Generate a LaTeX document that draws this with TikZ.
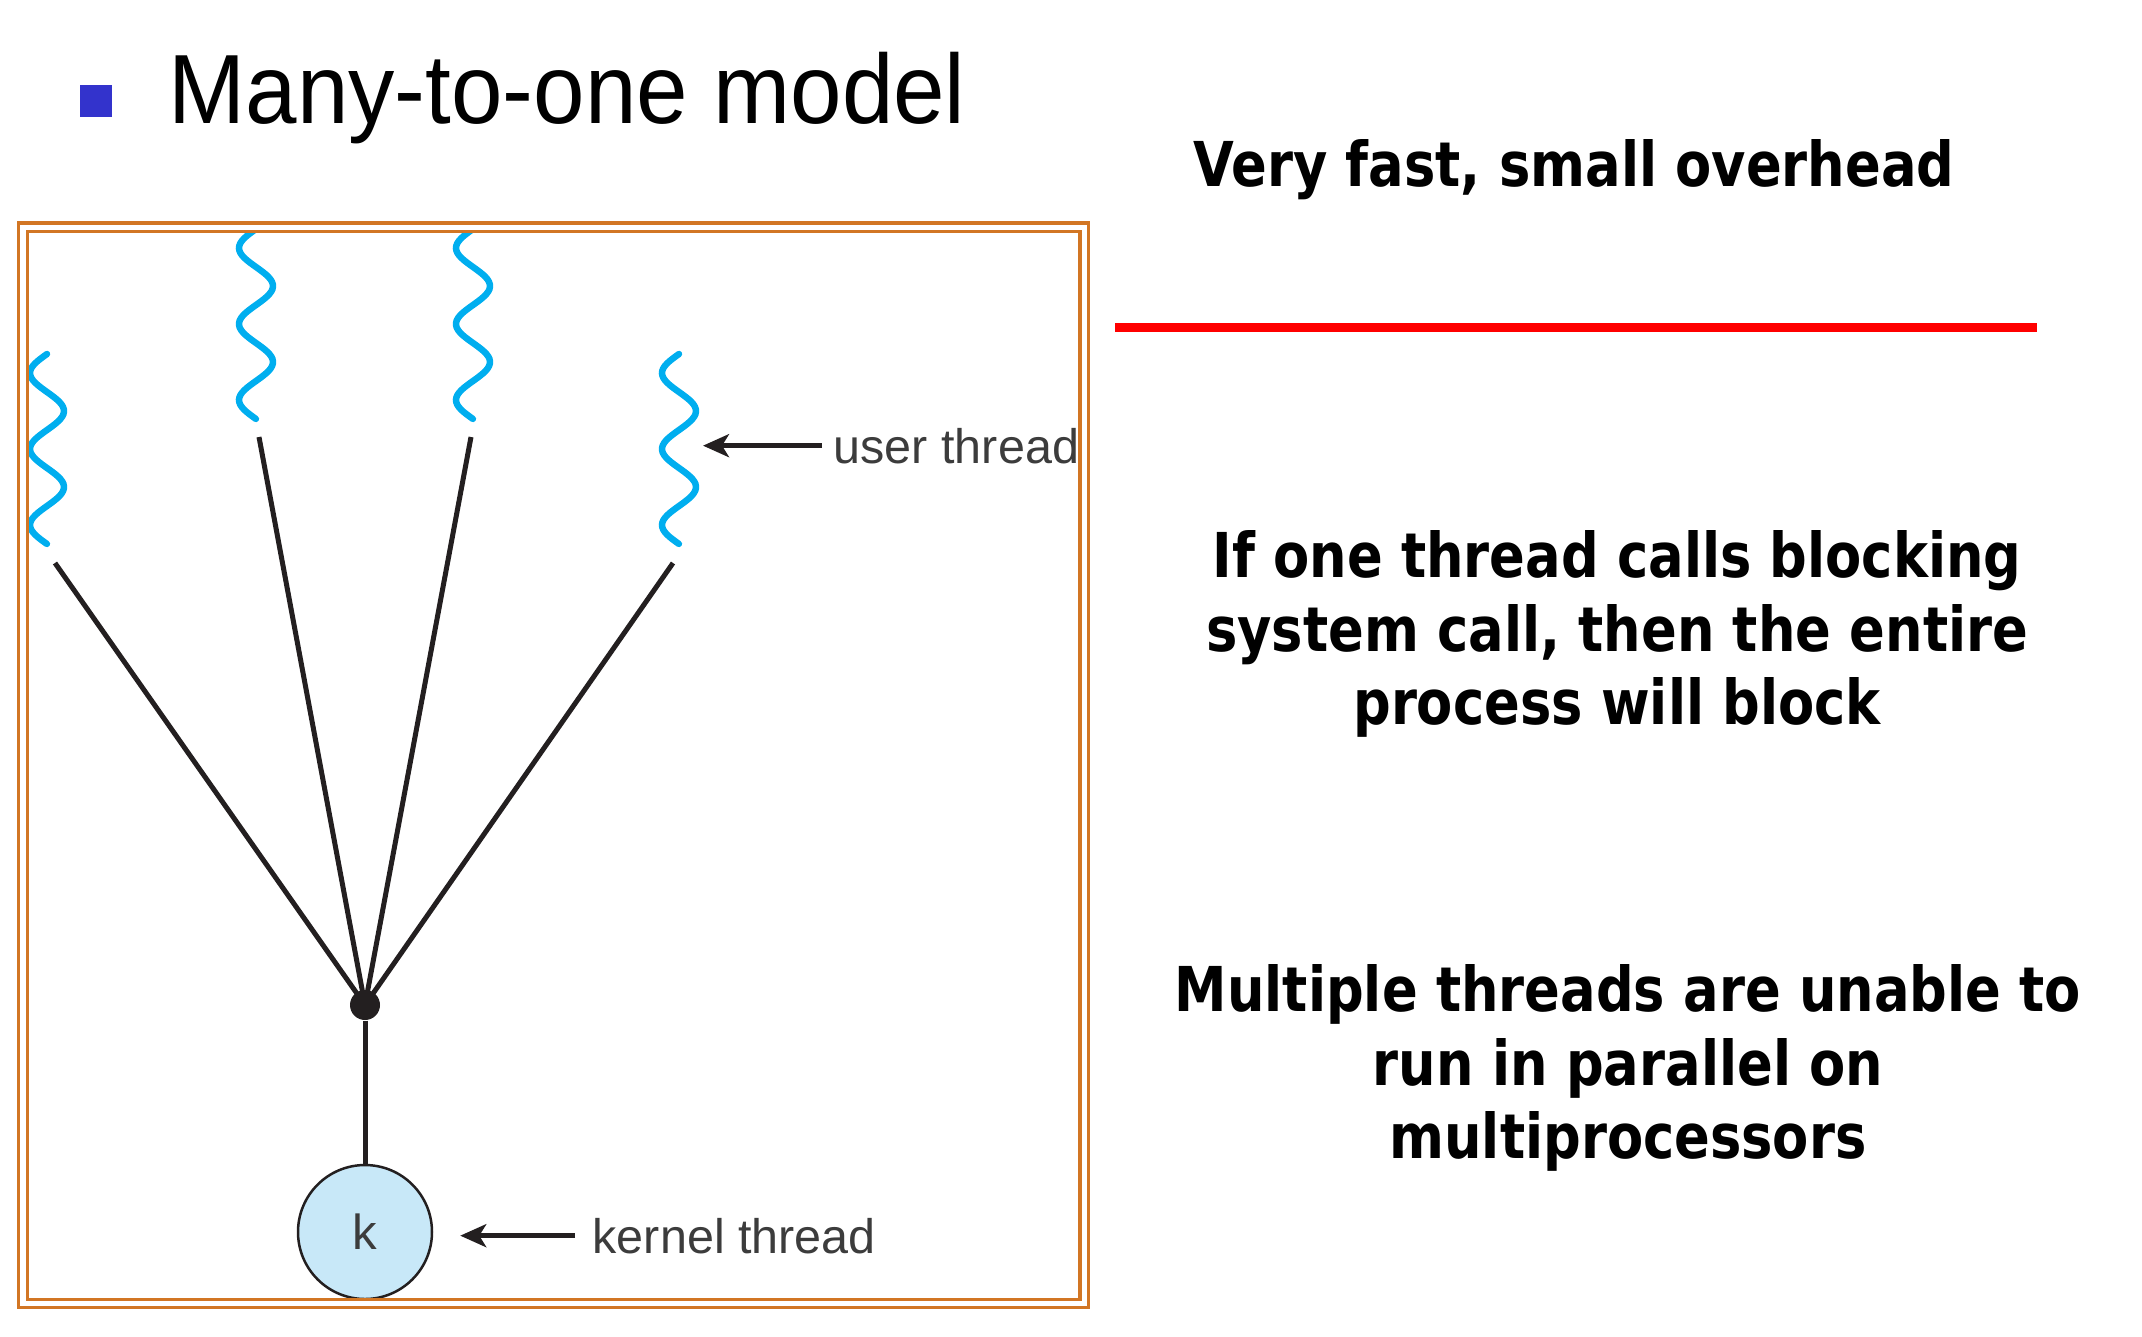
\documentclass[tikz,border=0pt]{standalone}
\usepackage{fontspec}
\setmainfont{Liberation Sans}
\newfontfamily\titlefont[FakeStretch=0.94]{Liberation Sans}
\newfontfamily\notefont[FakeStretch=0.852]{DejaVu Sans}
\usetikzlibrary{arrows.meta}
\definecolor{frameorange}{RGB}{210,118,36}
\definecolor{threadcyan}{RGB}{0,174,239}
\definecolor{kernelfill}{RGB}{200,232,248}
\definecolor{wiregray}{RGB}{35,31,32}
\definecolor{labelgray}{RGB}{60,60,60}
\definecolor{bulletblue}{RGB}{51,51,204}

\tikzset{
  wire/.style={wiregray, line width=0.05cm},
  pointer/.style={wiregray, line width=0.045cm, -{Stealth[length=0.26cm,width=0.23cm,inset=0.07cm]}},
  tlabel/.style={labelgray, inner sep=0, font=\fontsize{13.8}{16}\selectfont},
  note/.style={align=center, inner sep=0, font=\notefont\bfseries\fontsize{17.6}{20.9}\selectfont},
}

\begin{document}
\begin{tikzpicture}[x=1cm, y=-1cm]
\useasboundingbox (0,0) rectangle (21.42,13.36);

% Title
\fill[bulletblue] (0.80,0.85) rectangle (1.12,1.17);
\node[anchor=base west, inner sep=0, font=\titlefont\fontsize{28}{32}\selectfont] (title) at (1.68,1.23) {Many-to-one model};

% User threads
\foreach \cx/\ty in {0.47/3.54, 2.56/2.29, 4.73/2.29, 6.79/3.54} {
  \draw[threadcyan, line width=0.065cm, line cap=round]
    plot[domain=0:2.5, samples=80, smooth] ({\cx-0.17*sin(\x*360)}, {\ty+0.76*\x});
}

% Join point and kernel thread
\node[circle, fill=wiregray, inner sep=0, minimum size=0.3cm] (hub) at (3.65,10.05) {};
\coordinate (u1) at (0.55,5.63);
\coordinate (u2) at (2.59,4.37);
\coordinate (u3) at (4.71,4.37);
\coordinate (u4) at (6.73,5.63);
\foreach \u in {u1,u2,u3,u4} \draw[wire] (\u) -- (hub.center);

\node[circle, draw=wiregray, line width=0.025cm, fill=kernelfill, minimum size=1.34cm, inner sep=0,
      text=labelgray, font=\fontsize{14}{16}\selectfont] (k) at (3.65,12.32) {k};
\draw[wire] (hub) -- (k);

% Labels
\node[tlabel, anchor=base west] (ulab) at (8.33,4.63) {user thread};
\coordinate (utip) at (7.03,4.48);
\draw[pointer, shorten <=0.11cm] (ulab.west) -- (ulab.west -| utip);

\node[tlabel, anchor=base west] (klab) at (5.92,12.53) {kernel thread};
\draw[pointer, shorten <=0.17cm, shorten >=0.27cm] (klab.west) -- (klab.west -| k.east);

% Process frame
\draw[frameorange, line width=0.033cm, double=white, double distance=0.05cm] (0.23,2.27) rectangle (10.84,13.035);

% Notes
\node[note, anchor=base] (fast) at (15.74,1.86) {Very fast, small overhead};
\draw[red, line width=0.09cm] (11.15,3.27) -- (20.37,3.27);
\node[note] (block) at (16.17,6.34) {If one thread calls blocking\\system call, then the entire\\process will block};
\node[note] (multi) at (16.28,10.68) {Multiple threads are unable to\\run in parallel on\\multiprocessors};
\end{tikzpicture}
\end{document}
